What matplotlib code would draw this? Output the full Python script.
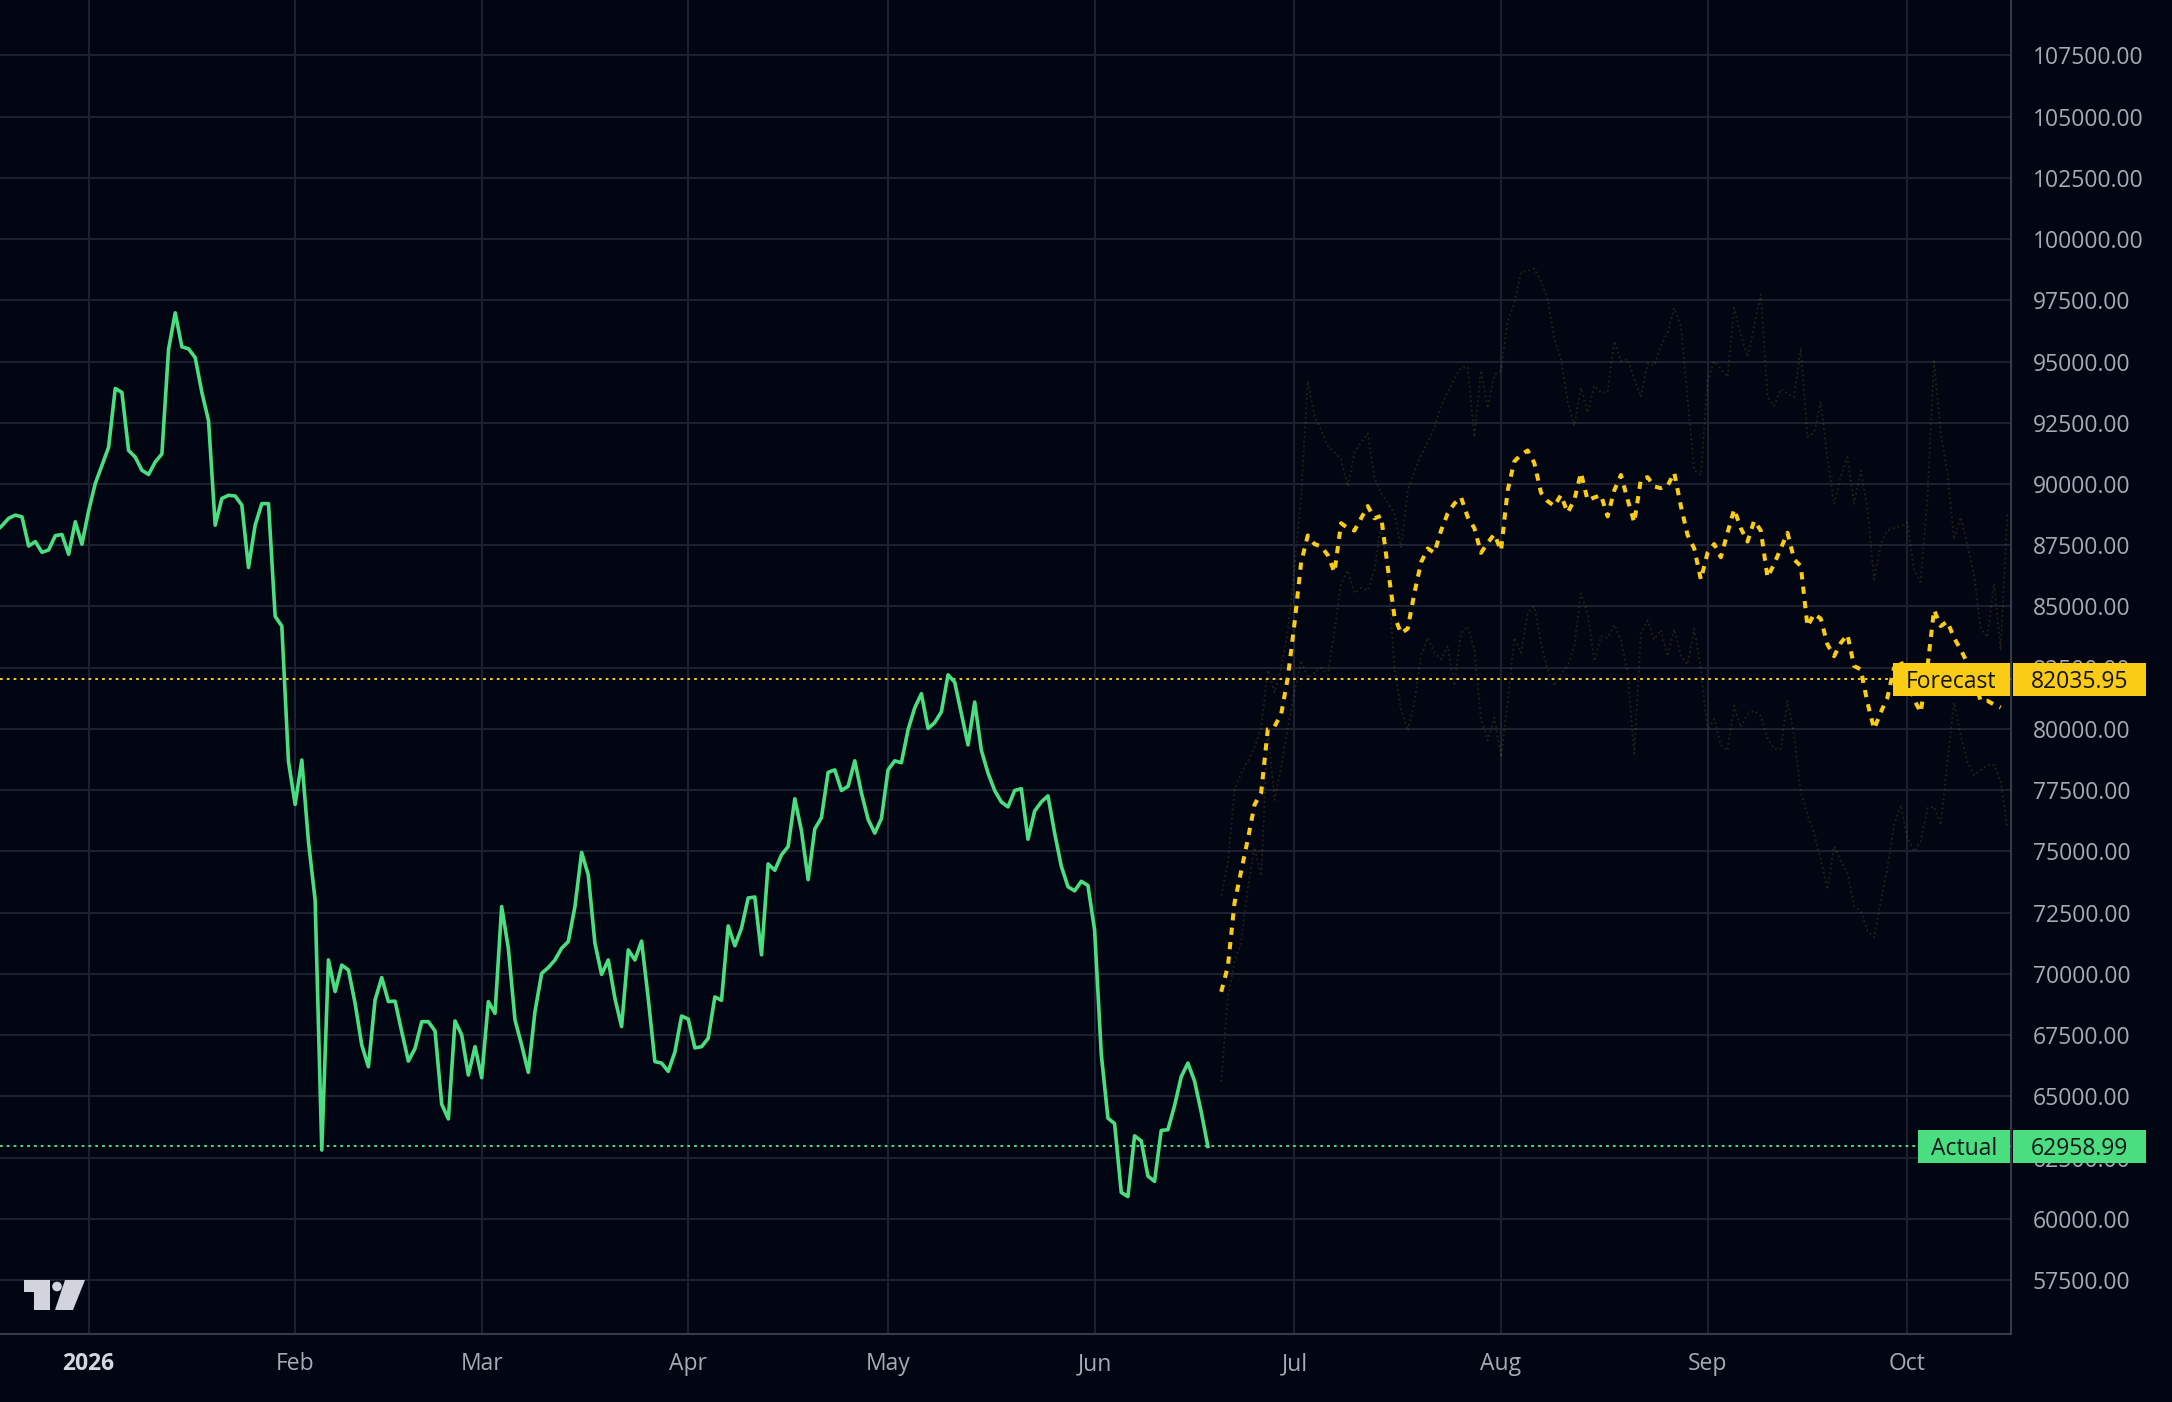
import numpy as np
import matplotlib
matplotlib.use("Agg")
import matplotlib.pyplot as plt
import matplotlib.dates as mdates
from matplotlib.patches import Rectangle, Polygon, Circle
from matplotlib.transforms import blended_transform_factory, Affine2D

plt.rcParams['font.family'] = ['Open Sans', 'DejaVu Sans']

# ---- data ----
actual_start = np.datetime64('2025-12-18')
actual_values = [
    88050, 88300, 88600, 88730, 88660, 87470, 87650, 87210, 87310, 87890,
    87940, 87130, 88460, 87540, 88900, 90020, 90760, 91500, 93900, 93740,
    91370, 91100, 90560, 90390, 90900, 91230, 95500, 96990, 95600, 95520,
    95160, 93740, 92590, 88320, 89410, 89540, 89510, 89140, 86590, 88320,
    89200, 89200, 84600, 84200, 78670, 76920, 78730, 75400, 73020, 62810,
    70570, 69280, 70360, 70160, 68800, 67100, 66210, 68940, 69850, 68870,
    68890, 67640, 66440, 66960, 68050, 68050, 67670, 64680, 64080, 68080,
    67510, 65870, 67030, 65760, 68870, 68390, 72750, 71050, 68120, 67100,
    65980, 68460, 70020, 70260, 70570, 71050, 71320, 72750, 74960, 74040,
    71250, 69980, 70570, 69000, 67850, 70980, 70570, 71340, 69000, 66420,
    66360, 66020, 66810, 68280, 68160, 66980, 67030, 67370, 69060, 68920,
    71960, 71150, 71870, 73100, 73140, 70780, 74490, 74230, 74860, 75200,
    77150, 75840, 73850, 75920, 76380, 78230, 78330, 77490, 77660, 78700,
    77390, 76310, 75750, 76340, 78330, 78700, 78620, 79970, 80860, 81440,
    80020, 80260, 80700, 82210, 81910, 80640, 79350, 81100, 79130, 78200,
    77490, 77020, 76820, 77490, 77560, 75500, 76650, 77020, 77270, 75750,
    74400, 73560, 73390, 73780, 73610, 71790, 66730, 64110, 63890, 61080,
    60910, 63390, 63180, 61750, 61530, 63610, 63640, 64620, 65800, 66360,
    65630, 64370, 62959,
]

forecast_start = np.datetime64('2026-06-20')
forecast_values = [
    69270, 70300, 72900, 74200, 75500, 76900, 77400, 80000, 80100, 80600,
    82100, 84300, 86800, 87900, 87550, 87450, 87100, 86400, 88400, 88200,
    88100, 88600, 89100, 88600, 88700, 86600, 84600, 83900, 84100, 85550,
    86800, 87370, 87190, 88100, 88800, 89200, 89460, 88650, 88200, 87190,
    87600, 87950, 87280, 89740, 90920, 91200, 91370, 90860, 89650, 89300,
    89100, 89550, 88830, 89340, 90460, 89340, 89450, 89550, 88680, 89740,
    90370, 89370, 88430, 90190, 90280, 89900, 89830, 89920, 90460, 89100,
    87920, 87370, 86100, 87190, 87550, 87010, 88010, 88970, 88190, 87650,
    88500, 88100, 86190, 86740, 87370, 88010, 86920, 86650, 84190, 84700,
    84500, 83450, 82970, 83510, 83850, 82570, 82430, 81080, 80000, 80680,
    81280, 82500, 82800, 82000, 81200, 80680, 82500, 84860, 84200, 84390,
    83720, 83240, 82700, 82000, 81150, 81150, 81000, 80880,
]

upper_values = [
    73200, 74500, 77500, 78200, 78700, 79240, 80060, 82400, 81500, 82500,
    84000, 86570, 89500, 94200, 92780, 92200, 91550, 91300, 91000, 89900,
    91300, 91700, 92070, 90240, 89630, 89220, 88810, 87390, 89740, 90500,
    91190, 91700, 92280, 93190, 93740, 94300, 94740, 94790, 91920, 94640,
    93100, 94460, 94640, 96640, 97370, 98640, 98700, 98790, 98280, 97550,
    95920, 95100, 93370, 92370, 93920, 92920, 94010, 93740, 93740, 95830,
    95010, 95100, 94300, 93550, 94920, 94830, 95640, 96190, 97190, 96460,
    93500, 90550, 90370, 94200, 95010, 94700, 94370, 97190, 96100, 95190,
    96460, 97740, 93550, 93190, 93880, 93700, 93550, 95550, 91920, 92100,
    93370, 91010, 89190, 90280, 91100, 89190, 90550, 89010, 86100, 87550,
    88100, 88200, 88280, 88430, 86460, 86010, 89370, 95010, 92100, 90460,
    87740, 88650, 87500, 86280, 84100, 83740, 85920, 83200, 88800,
]

lower_values = [
    65600, 69000, 70500, 71300, 73500, 75170, 74000, 80060, 77100, 78430,
    80060, 81500, 82800, 82090, 82300, 82500, 82200, 84000, 85960, 86470,
    85550, 85760, 85660, 86500, 88400, 86500, 82500, 80800, 79930, 81080,
    83000, 83720, 83110, 82840, 83380, 81760, 83920, 84190, 83240, 80410,
    79530, 80470, 78850, 81080, 83720, 83110, 84730, 85000, 83510, 82430,
    81760, 82230, 82570, 83380, 85540, 84730, 82770, 83780, 83720, 84260,
    83650, 82300, 78990, 83920, 84430, 83650, 84050, 82970, 84080, 82970,
    82640, 84080, 82430, 79930, 80410, 79330, 79120, 80950, 80070, 80610,
    80740, 80540, 79600, 79190, 79190, 81150, 79730, 77430, 76490, 75750,
    74660, 73450, 75210, 74600, 74120, 72770, 72570, 71760, 71490, 72980,
    74330, 76080, 76890, 75540, 75000, 75410, 76760, 76830, 76080, 78650,
    81080, 79730, 78650, 78110, 78310, 78540, 78540, 77840, 75950,
]

forecast_level = 82035.95
actual_level = 62958.99

month_labels = ['2026', 'Feb', 'Mar', 'Apr', 'May', 'Jun', 'Jul', 'Aug', 'Sep', 'Oct']
month_starts = [np.datetime64('2026-%02d-01' % m) for m in range(1, 11)]
price_ticks = np.arange(57500, 107501, 2500)

# ---- style ----
BG = '#020612'
GRID = '#1d2230'
GREEN = '#4ade80'
YELLOW = '#facc15'
LABEL = '#a7aab2'
BOXTXT = '#12151c'

W, H = 2172, 1402
AX_R, AX_B = 2011, 1334
ymin, ymax = 55300, 109760

fig = plt.figure(figsize=(W / 100, H / 100), dpi=100, facecolor=BG)
ax = fig.add_axes([0, 1 - AX_B / H, AX_R / W, AX_B / H])
ax.set_facecolor(BG)

actual_dates = actual_start + np.arange(len(actual_values))
forecast_dates = forecast_start + np.arange(len(forecast_values))
upper_dates = forecast_start + np.arange(len(upper_values))
lower_dates = forecast_start + np.arange(len(lower_values))

ax.plot(upper_dates, upper_values, color=YELLOW, alpha=0.14, lw=1.3, ls=':', zorder=2)
ax.plot(lower_dates, lower_values, color=YELLOW, alpha=0.14, lw=1.3, ls=':', zorder=2)
ax.axhline(forecast_level, color=YELLOW, lw=1.4, dashes=(1.4, 2.1), zorder=3)
ax.axhline(actual_level, color=GREEN, lw=1.4, dashes=(1.4, 2.1), zorder=3)
ax.plot(actual_dates, actual_values, color=GREEN, lw=2.6, zorder=4,
        solid_joinstyle='round')
ax.plot(forecast_dates, forecast_values, color=YELLOW, lw=2.9,
        dashes=(1.8, 1.8), zorder=4)

jan1 = mdates.date2num(np.datetime64('2026-01-01'))
ax.set_xlim(jan1 - 13.3, jan1 + 288.55)
ax.set_ylim(ymin, ymax)

ax.set_xticks([mdates.date2num(d) for d in month_starts])
ax.set_xticklabels(month_labels)
ax.set_yticks(price_ticks)
ax.set_yticklabels(['%.2f' % v for v in price_ticks])
ax.yaxis.tick_right()
ax.tick_params(axis='both', length=0, labelsize=16.5, colors=LABEL)
ax.tick_params(axis='y', pad=15.5)
ax.tick_params(axis='x', pad=13)
first = ax.get_xticklabels()[0]
first.set_color('#d4d7de')
first.set_fontweight('bold')

ax.grid(True, color=GRID, lw=1.4)
ax.set_axisbelow(True)
for s in ['left', 'top']:
    ax.spines[s].set_visible(False)
for s in ['right', 'bottom']:
    ax.spines[s].set_color('#353b49')
    ax.spines[s].set_linewidth(1.5)

# price labels on the right
trans = blended_transform_factory(ax.transAxes, ax.transData)
box_h = 33 / (AX_B / (ymax - ymin))


def level_label(value, name, color, x0):
    ax.add_patch(Rectangle((x0, value - box_h / 2), 0.9995 - x0, box_h,
                           transform=trans, fc=color, ec='none',
                           clip_on=False, zorder=6))
    ax.text((x0 + 0.9995) / 2, value, name, transform=trans, ha='center',
            va='center_baseline', color=BOXTXT, fontsize=16.5, zorder=7,
            clip_on=False)
    ax.add_patch(Rectangle((1.001, value - box_h / 2), 0.066, box_h,
                           transform=trans, fc=color, ec='none',
                           clip_on=False, zorder=6))
    ax.text(1.034, value, '%.2f' % value, transform=trans, ha='center',
            va='center_baseline', color=BOXTXT, fontsize=16.5, zorder=7,
            clip_on=False)


level_label(forecast_level, 'Forecast', YELLOW, 1893 / AX_R)
level_label(actual_level, 'Actual', GREEN, 1918 / AX_R)

# logo, bottom left
px = Affine2D().scale(1 / W, -1 / H).translate(0, 1) + fig.transFigure
logo = '#d1d4dc'
fig.add_artist(Polygon([(24, 1280), (50, 1280), (50, 1310), (34, 1310),
                        (34, 1292), (24, 1292)], closed=True, fc=logo,
                       ec='none', transform=px))
fig.add_artist(Circle((57, 1286.5), 4.8, fc=logo, ec='none', transform=px))
fig.add_artist(Polygon([(65, 1280), (85, 1280), (73, 1310), (55, 1310)],
                       closed=True, fc=logo, ec='none', transform=px))

fig.savefig('out.png', dpi=100, facecolor=BG)
